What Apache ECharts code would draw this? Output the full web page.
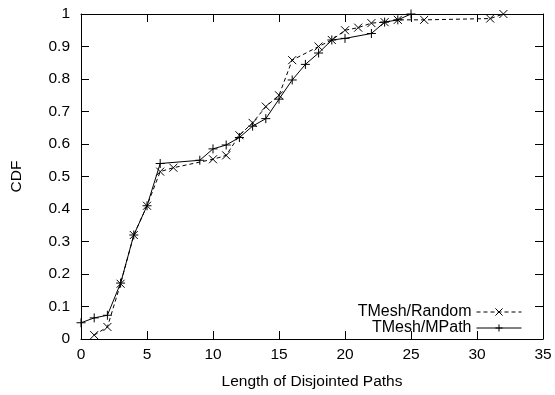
<!DOCTYPE html>
<html><head><meta charset="utf-8">
<script src="https://cdn.jsdelivr.net/npm/echarts@6/dist/echarts.min.js"></script>
<style>html,body{margin:0;padding:0;background:#fff}#c{width:555px;height:395px}</style>
</head><body><div id="c"></div>
<script>
const randomX = [1, 2, 3, 4, 5, 6, 7, 10, 11, 12, 13, 14, 15, 16, 18, 19, 20, 21, 22, 23, 24, 26, 31, 32];
const randomY = [0.012, 0.037, 0.17, 0.32, 0.41, 0.515, 0.527, 0.553, 0.565, 0.627, 0.665, 0.715, 0.75, 0.858, 0.90, 0.92, 0.95, 0.958, 0.972, 0.975, 0.982, 0.982, 0.986, 1.0];
const mpathX = [0, 1, 2, 3, 4, 5, 6, 9, 10, 11, 12, 13, 14, 15, 16, 17, 18, 19, 20, 22, 23, 24, 25];
const mpathY = [0.05, 0.065, 0.073, 0.172, 0.32, 0.41, 0.54, 0.55, 0.585, 0.597, 0.62, 0.655, 0.678, 0.738, 0.797, 0.845, 0.88, 0.92, 0.925, 0.94, 0.975, 0.982, 1.0];
const seriesNames = ['TMesh/Random', 'TMesh/MPath'];
const xTitle = 'Length of Disjointed Paths';
const yTitle = 'CDF';

const pairs = (xs, ys) => xs.map((x, i) => [x, ys[i]]);
const FONT = 'Liberation Sans';
const FS = 15.5;
const axisCommon = {
  axisLine: {show: true, onZero: false, lineStyle: {color: '#000', width: 1}},
  axisTick: {show: true, inside: true, length: 8, lineStyle: {color: '#000'}},
  splitLine: {show: false}
};
const chart = echarts.init(document.getElementById('c'), null, {renderer: 'canvas'});
chart.setOption({
  animation: false,
  backgroundColor: '#fff',
  grid: {left: 81, right: 12, top: 14, bottom: 52},
  legend: {
    orient: 'vertical', align: 'right', right: 33, top: 304, padding: 0,
    itemWidth: 45, itemHeight: 9, itemGap: 0,
    lineStyle: {width: 1},
    itemStyle: {borderWidth: 1},
    textStyle: {fontFamily: FONT, fontSize: 16, color: '#000', lineHeight: 15},
    data: seriesNames
  },
  xAxis: [
    Object.assign({type: 'value', min: 0, max: 35, interval: 5, position: 'bottom',
      name: xTitle, nameLocation: 'middle', nameGap: 35,
      nameTextStyle: {fontFamily: FONT, fontSize: FS, color: '#000'},
      axisLabel: {fontFamily: FONT, fontSize: FS, color: '#000', margin: 8}}, axisCommon),
    Object.assign({type: 'value', min: 0, max: 35, interval: 5, position: 'top',
      axisLabel: {show: false}}, axisCommon)
  ],
  yAxis: [
    Object.assign({type: 'value', min: 0, max: 1, interval: 0.1, position: 'left',
      name: yTitle, nameLocation: 'middle', nameGap: 56, nameRotate: 90,
      nameTextStyle: {fontFamily: FONT, fontSize: FS, color: '#000'},
      axisLabel: {fontFamily: FONT, fontSize: FS, color: '#000', margin: 11}}, axisCommon),
    Object.assign({type: 'value', min: 0, max: 1, interval: 0.1, position: 'right',
      axisLabel: {show: false}}, axisCommon)
  ],
  series: [
    {
      name: seriesNames[0], type: 'line', data: pairs(randomX, randomY),
      symbol: 'path://M0,0L10,10M10,0L0,10', symbolSize: 8, showAllSymbol: true,
      lineStyle: {color: '#000', width: 1, type: [4, 3]},
      itemStyle: {color: 'rgba(0,0,0,0)', borderColor: '#000', borderWidth: 1},
      z: 3
    },
    {
      name: seriesNames[1], type: 'line', data: pairs(mpathX, mpathY),
      symbol: 'path://M5,0L5,10M0,5L10,5', symbolSize: 9, showAllSymbol: true,
      lineStyle: {color: '#000', width: 1},
      itemStyle: {color: 'rgba(0,0,0,0)', borderColor: '#000', borderWidth: 1},
      z: 3
    }
  ]
});
</script></body></html>
